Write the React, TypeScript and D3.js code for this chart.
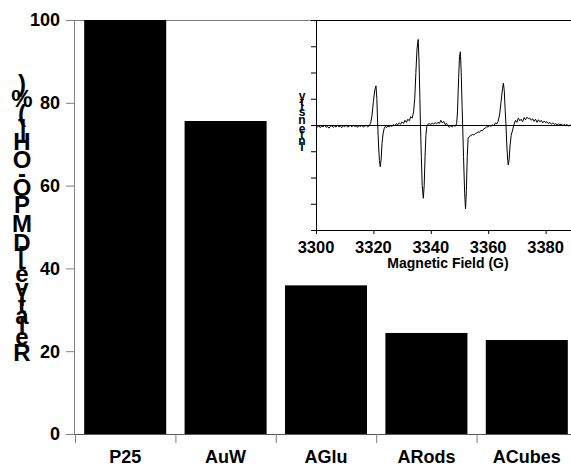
import React, { useMemo } from "react";
import * as d3 from "d3";

const categories = ["P25", "AuW", "AGlu", "ARods", "ACubes"];
const values = [100, 75.6, 35.9, 24.4, 22.7];
const yTicks = [0, 20, 40, 60, 80, 100];
const yLabel = "Relative [DMPO-OH] (%)";

const insetXTicks = [3300, 3320, 3340, 3360, 3380];
const insetYTicks = [-4, -3, -2, -1, 0, 1, 2, 3, 4];
const insetXLabel = "Magnetic Field (G)";
const insetYLabel = "Intensity";

const eprField = [
  3300, 3300.5, 3301, 3301.5, 3302, 3302.5, 3303, 3303.5, 3304, 3304.5, 3305, 3305.5, 3306, 3306.5, 3307, 3307.5,
  3308, 3308.5, 3309, 3309.5, 3310, 3310.5, 3311, 3311.5, 3312, 3312.5, 3313, 3313.5, 3314, 3314.5, 3315, 3315.5,
  3316, 3316.5, 3317, 3317.5, 3318, 3318.5,
  3319, 3319.5, 3320, 3320.5, 3320.9, 3321.2, 3321.5, 3321.8, 3322.1, 3322.4, 3322.7, 3323.0, 3323.4, 3323.8,
  3324.2, 3324.6, 3325, 3325.5, 3326, 3326.5, 3327, 3327.5, 3328, 3328.5, 3329, 3329.5, 3330, 3330.5, 3331, 3331.5,
  3332, 3332.5, 3333, 3333.5, 3334, 3334.4, 3334.8, 3335.2, 3335.6, 3335.9, 3336.2, 3336.4, 3336.7, 3337.0, 3337.4,
  3337.7, 3338.0, 3338.3, 3338.6, 3339, 3339.5, 3340, 3340.5, 3341, 3341.5, 3342, 3342.5, 3343, 3343.5, 3344, 3344.5,
  3345, 3345.5, 3346, 3346.5, 3347, 3347.5, 3348, 3348.5, 3349, 3349.3, 3349.7, 3350.0, 3350.3, 3350.6, 3350.9, 3351.1,
  3351.4, 3351.8, 3352.1, 3352.4, 3352.7, 3353.0, 3353.5, 3354.0, 3354.5, 3355, 3355.5, 3356, 3356.5, 3357, 3357.5,
  3358, 3358.5, 3359, 3359.5, 3360, 3360.5, 3361, 3361.5, 3362, 3362.5, 3363, 3363.5, 3364, 3364.5, 3365, 3365.3,
  3365.6, 3365.9, 3366.2, 3366.5, 3366.8, 3367.0, 3367.3, 3367.6, 3368.0, 3368.5, 3369, 3369.5, 3370, 3370.5, 3371,
  3371.5, 3372, 3372.5, 3373, 3373.5, 3374, 3374.5, 3375, 3375.5, 3376, 3376.5, 3377, 3377.5, 3378, 3378.5, 3379,
  3379.5, 3380, 3380.5, 3381, 3381.5, 3382, 3382.5, 3383, 3383.5, 3384, 3384.5, 3385, 3385.5, 3386, 3386.5, 3387,
  3387.5, 3388, 3388.5, 3389,
];
const eprIntensity = [
  -0.02, -0.08, -0.03, -0.1, -0.04, -0.07, -0.01, -0.09, -0.05, -0.12, -0.06, -0.03, -0.09, -0.04, -0.08, -0.02,
  -0.07, -0.05, -0.1, -0.03, -0.06, -0.01, -0.08, -0.04, -0.02, -0.07, 0.0, -0.06, -0.03, -0.09, -0.02, -0.06,
  -0.01, -0.08, -0.04, -0.02, -0.07, -0.03,
  0.05, 0.35, 0.9, 1.35, 1.49, 1.0, 0.0, -0.8, -1.35, -1.59, -1.3, -0.7, -0.3, -0.12,
  -0.05, -0.1, -0.03, -0.08, -0.02, -0.06, 0.02, -0.03, 0.05, 0.01, 0.08, 0.03, 0.12, 0.06, 0.18, 0.1,
  0.22, 0.16, 0.32, 0.26, 0.5, 1.0, 2.0, 2.9, 3.26, 2.4, 1.0, 0.0, -1.2, -2.3, -2.79,
  -2.3, -1.2, -0.4, -0.05, 0.03, 0.05, 0.02, 0.07, 0.04, 0.09, 0.05, 0.1, 0.06, 0.18, 0.08, 0.14,
  0.02, 0.06, -0.04, -0.08, -0.03, -0.07, -0.02, -0.05, 0.05, 0.5, 1.8, 2.6, 2.79, 2.0, 0.7, 0.0,
  -1.2, -2.6, -3.2, -2.5, -1.2, -0.51, -0.43, -0.4, -0.36, -0.38, -0.32, -0.3, -0.26, -0.28, -0.2,
  -0.22, -0.14, -0.12, -0.06, -0.08, -0.02, -0.05, 0.01, -0.03, 0.08, 0.04, 0.15, 0.42, 0.9, 1.4, 1.59,
  1.3, 0.6, 0.0, -0.8, -1.35, -1.52, -1.3, -0.8, -0.4, -0.19, 0.02, 0.18, 0.1, 0.27, 0.16,
  0.22, 0.12, 0.28, 0.2, 0.3, 0.24, 0.26, 0.18, 0.24, 0.14, 0.22, 0.1, 0.2, 0.12, 0.18, 0.08,
  0.15, 0.09, 0.13, 0.05, 0.1, 0.03, 0.08, 0.02, 0.06, -0.01, 0.05, 0.0, 0.04, -0.03, 0.03, -0.02,
  0.02, -0.05, 0.01, -0.06,
];

const FONT = "'Liberation Sans', Arial, Helvetica, sans-serif";
const W = 571;
const H = 468;

let measureCtx: CanvasRenderingContext2D | null = null;
function textWidth(ch: string, size: number): number {
  if (!measureCtx && typeof document !== "undefined") {
    measureCtx = document.createElement("canvas").getContext("2d");
  }
  if (measureCtx) {
    measureCtx.font = `bold ${size}px 'Liberation Sans', Arial, sans-serif`;
    return measureCtx.measureText(ch).width;
  }
  return size * 0.6;
}

// Glyphs drawn upright, stacked along a vertical line (last character at the top),
// advancing by each glyph's horizontal width.
function GlyphStack({ text, size, x, yTop, yBottom }: { text: string; size: number; x: number; yTop: number; yBottom: number }) {
  const chars = [...text].reverse();
  let pos = 0;
  const centers = chars.map((c) => {
    const w = textWidth(c, size);
    const ctr = pos + w / 2;
    pos += w;
    return ctr;
  });
  const s = d3.scaleLinear().domain([centers[0], centers[centers.length - 1]]).range([yTop, yBottom]);
  return (
    <g fontFamily={FONT} fontWeight="bold" fontSize={size} textAnchor="middle" fill="#000">
      {chars.map((c, i) =>
        c === " " ? null : (
          <text key={i} x={x} y={s(centers[i]) + size * 0.36}>
            {c}
          </text>
        )
      )}
    </g>
  );
}

export default function App() {
  const x = useMemo(
    () => d3.scaleBand<string>().domain(categories).range([75, 577]).paddingInner(0.183).paddingOuter(0.0915),
    []
  );
  const y = useMemo(() => d3.scaleLinear().domain([0, 100]).range([434, 20]), []);
  const ix = useMemo(() => d3.scaleLinear().domain([3300, 3380]).range([316, 545.6]), []);
  const iy = useMemo(() => d3.scaleLinear().domain([-4, 4]).range([230, 20]), []);

  const linePath = d3
    .line<number>()
    .x((_, i) => ix(eprField[i]))
    .y((d) => iy(d))(eprIntensity) as string;

  const axisGray = "#7f7f7f";
  const left = 74;

  return (
    <svg
      width={W}
      height={H}
      viewBox={`0 0 ${W} ${H}`}
      style={{ position: "absolute", left: 0, top: 0, background: "#fff" }}
    >
      <rect x={0} y={0} width={W} height={H} fill="#fff" />
      {/* main frame top line */}
      <line x1={left} x2={W} y1={y(100) + 0.5} y2={y(100) + 0.5} stroke={axisGray} strokeWidth={1} />

      {/* bars */}
      {categories.map((c, i) => (
        <rect key={c} x={x(c)} y={y(values[i])} width={x.bandwidth()} height={y(0) - y(values[i])} fill="#000" />
      ))}

      {/* y axis */}
      <line x1={left + 0.5} x2={left + 0.5} y1={y(100)} y2={y(0)} stroke={axisGray} strokeWidth={1} />
      {yTicks.map((t) => (
        <g key={t}>
          <line x1={66} x2={left} y1={y(t) + 0.5} y2={y(t) + 0.5} stroke={axisGray} strokeWidth={1} />
          <text
            x={60}
            y={y(t)}
            dy="0.36em"
            textAnchor="end"
            fontFamily={FONT}
            fontWeight="bold"
            fontSize={18}
            fill="#000"
          >
            {t}
          </text>
        </g>
      ))}

      {/* x axis */}
      <line x1={left} x2={W} y1={y(0) + 0.5} y2={y(0) + 0.5} stroke="#555" strokeWidth={1} />
      {categories.map((c) => (
        <g key={c}>
          <line
            x1={(x(c) as number) - x.step() * x.paddingInner() / 2 + 0.5}
            x2={(x(c) as number) - x.step() * x.paddingInner() / 2 + 0.5}
            y1={y(0)}
            y2={y(0) + 9}
            stroke={axisGray}
            strokeWidth={1}
          />
          <text
            x={(x(c) as number) + x.bandwidth() / 2}
            y={463}
            textAnchor="middle"
            fontFamily={FONT}
            fontWeight="bold"
            fontSize={18}
            fill="#000"
          >
            {c}
          </text>
        </g>
      ))}

      <GlyphStack text={yLabel} size={24} x={22} yTop={83} yBottom={352} />

      {/* inset */}
      <g>
        <rect x={316} y={20} width={W - 316} height={210} fill="#fff" />
        <defs>
          <clipPath id="insetClip">
            <rect x={316} y={20} width={W - 316} height={210} />
          </clipPath>
        </defs>
        <line x1={316} x2={W} y1={iy(0) + 0.5} y2={iy(0) + 0.5} stroke="#000" strokeWidth={1} />
        <path d={linePath} fill="none" stroke="#000" strokeWidth={1} clipPath="url(#insetClip)" />
        <line x1={316} x2={W} y1={20.5} y2={20.5} stroke="#000" strokeWidth={1} />
        <line x1={316.5} x2={316.5} y1={20} y2={230} stroke="#000" strokeWidth={1} />
        <line x1={316} x2={W} y1={230.5} y2={230.5} stroke="#000" strokeWidth={1} />
        {insetYTicks.map((t) => (
          <line key={t} x1={311} x2={316} y1={iy(t) + 0.5} y2={iy(t) + 0.5} stroke="#000" strokeWidth={1} />
        ))}
        {insetXTicks.map((t) => (
          <g key={t}>
            <line x1={ix(t) + 0.5} x2={ix(t) + 0.5} y1={230} y2={234} stroke="#000" strokeWidth={1} />
            <text
              x={ix(t)}
              y={253}
              textAnchor="middle"
              fontFamily={FONT}
              fontWeight="bold"
              fontSize={16.5}
              fill="#000"
            >
              {t}
            </text>
          </g>
        ))}
        <text x={448} y={268} textAnchor="middle" fontFamily={FONT} fontWeight="bold" fontSize={14} fill="#000">
          {insetXLabel}
        </text>
        <GlyphStack text={insetYLabel} size={12} x={302} yTop={96} yBottom={147} />
      </g>
    </svg>
  );
}
